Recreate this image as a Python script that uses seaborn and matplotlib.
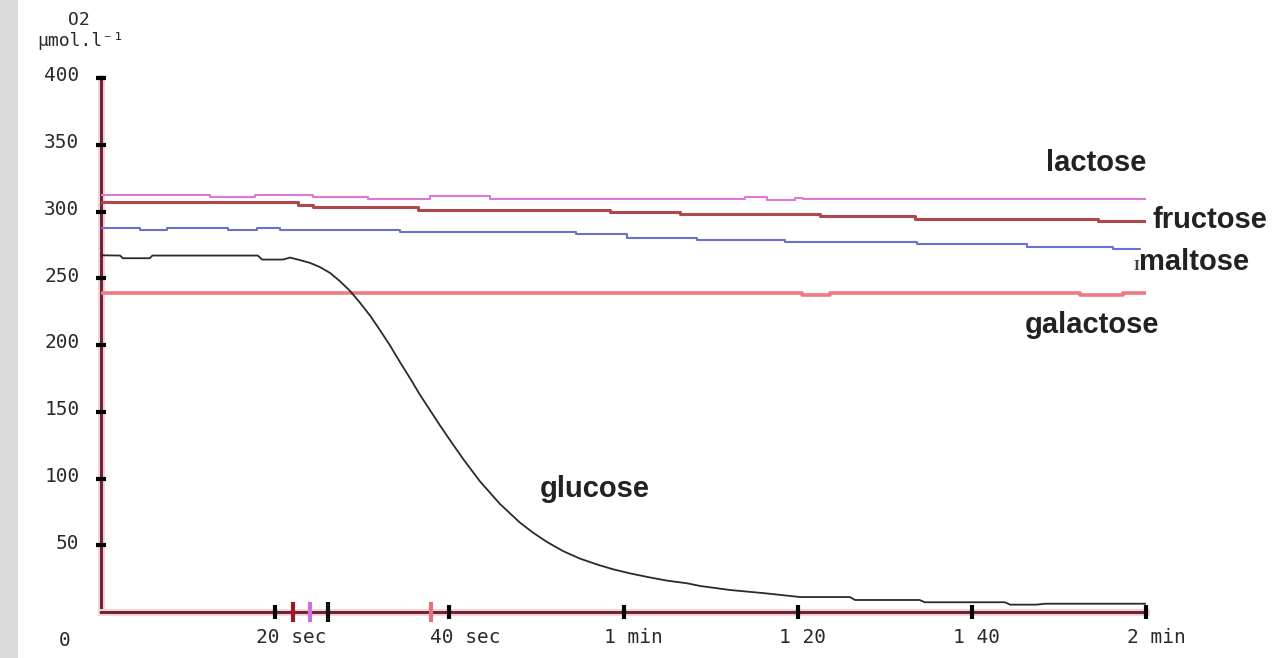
import matplotlib
matplotlib.use("Agg")
import matplotlib.pyplot as plt
import matplotlib.patheffects as pe
from matplotlib.patches import Rectangle
from matplotlib.transforms import ScaledTranslation
import seaborn as sns

# ---------------- data (time in seconds, O2 in µmol/l) ----------------
lactose_t = [0, 12.5, 17.7, 24.3, 30.7, 37.8, 44.7, 74.0, 76.5, 79.7, 80.6, 120]
lactose_v = [312.4, 310.9, 312.4, 310.9, 309.6, 311.4, 309.1, 311.0, 308.8, 310.3, 309.0, 309.0]

fructose_t = [0, 22.6, 24.3, 36.4, 58.5, 66.5, 82.6, 93.5, 114.5, 120]
fructose_v = [306.9, 304.9, 303.1, 301.4, 299.6, 298.1, 296.4, 294.7, 292.9, 292.9]

maltose_t = [0, 4.5, 7.6, 14.6, 17.9, 20.6, 34.3, 54.5, 60.4, 68.4, 78.5, 93.7, 106.3, 116.2, 119.3]
maltose_v = [287.9, 285.9, 287.9, 285.9, 287.9, 285.9, 284.7, 282.9, 280.5, 278.4, 277.5, 276.0, 273.5, 271.7, 271.7]

galactose_t = [0, 80.5, 83.7, 112.4, 117.4, 120]
galactose_v = [239.0, 237.3, 239.0, 237.3, 239.0, 239.0]

glucose_t = [0, 2.2, 2.5, 5.6, 5.9, 18.0, 18.5, 20.9, 21.7, 22.9, 24.0, 25.1, 26.3,
             27.4, 28.6, 29.7, 30.9, 32.0, 33.2, 34.3, 35.5, 36.6, 37.8, 38.9, 40.1,
             41.6, 43.5, 45.8, 48.1, 49.6, 51.2, 53.1, 55.0, 57.0, 58.8, 60.7, 62.7,
             65.0, 67.3, 68.8, 72.2, 76.3, 80.3, 86.0, 86.6, 94.0, 94.6, 103.8, 104.4,
             107.4, 108.4, 120]
glucose_v = [267.2, 267.0, 265.0, 265.0, 267.0, 267.0, 264.0, 264.0, 265.5, 263.5, 261.5,
             258.5, 254.0, 248.0, 240.5, 232.0, 222.0, 211.5, 199.5, 187.5, 175.0, 163.0,
             151.0, 140.0, 128.5, 114.5, 98.0, 81.0, 67.0, 59.5, 52.5, 45.5, 40.0, 35.5,
             32.0, 29.0, 26.3, 23.5, 21.5, 19.5, 16.5, 14.0, 11.2, 11.2, 9.0, 9.0, 7.3,
             7.3, 5.5, 5.5, 6.2, 6.2]

series_names = ["lactose", "fructose", "maltose", "galactose", "glucose"]
series_colors = ["#dd77dd", "#b0474f", "#6b72cc", "#ee7a86", "#2a2a2a"]

x_ticks = [20, 40, 60, 80, 100, 120]
x_tick_labels = ["20 sec", "40 sec", "1 min", "1 20", "1 40", "2 min"]
y_ticks = [50, 100, 150, 200, 250, 300, 350, 400]

# injection marks on the time axis
mark_t = [22.0, 24.0, 26.1, 37.9]
mark_colors = ["#a01828", "#d070d8", "#111111", "#e8707e"]

# ---------------- drawing ----------------
sns.set_theme(style="white")
plt.rcParams["font.family"] = ["DejaVu Sans Mono", "DejaVu Sans"]

W, H = 1274, 658
fig = plt.figure(figsize=(W / 100, H / 100), dpi=100)
fig.patch.set_facecolor("white")
fig.patches.append(Rectangle((0, 0), 18 / W, 1, transform=fig.transFigure,
                             facecolor="#dadada", edgecolor="none", zorder=0))

ax = fig.add_axes([101 / W, 46 / H, (1146 - 101) / W, (612 - 78) / H])
ax.set_facecolor("none")

data = {
    "lactose": (lactose_t, lactose_v, 1.5, "steps-post"),
    "fructose": (fructose_t, fructose_v, 2.2, "steps-post"),
    "maltose": (maltose_t, maltose_v, 1.5, "steps-post"),
    "galactose": (galactose_t, galactose_v, 2.6, "steps-post"),
    "glucose": (glucose_t, glucose_v, 1.3, "default"),
}
for name, col in zip(series_names, series_colors):
    t, v, lw, ds = data[name]
    sns.lineplot(x=t, y=v, ax=ax, color=col, lw=lw, drawstyle=ds,
                 estimator=None, sort=False, zorder=3)

ax.set_xlim(0, 120)
ax.set_ylim(0, 400)

for s in ["top", "right"]:
    ax.spines[s].set_visible(False)
for s in ["left", "bottom"]:
    ax.spines[s].set_color("#6e2636")
    ax.spines[s].set_linewidth(2.2)
    ax.spines[s].set_path_effects([pe.withStroke(linewidth=5, foreground="#f6d3da")])
    ax.spines[s].set_zorder(1)
ax.xaxis.set_zorder(2.5)
ax.yaxis.set_zorder(2.5)

mono = ["DejaVu Sans Mono", "DejaVu Sans"]
ax.set_yticks(y_ticks)
ax.set_yticklabels([str(v) for v in y_ticks], family=mono, fontsize=14, color="#2a2a2a")
ax.tick_params(axis="y", direction="inout", length=7, width=3, color="black", pad=12, left=True)
for lab in ax.get_yticklabels():
    lab.set_transform(lab.get_transform() + ScaledTranslation(0, 3 / 72, fig.dpi_scale_trans))

ax.set_xticks(x_ticks)
ax.set_xticklabels(x_tick_labels, family=mono, fontsize=14, color="#2a2a2a", ha="left")
ax.tick_params(axis="x", direction="inout", length=9.5, width=3, color="black", pad=7, bottom=True)
for lab in ax.get_xticklabels():
    lab.set_transform(lab.get_transform() + ScaledTranslation(-13.7 / 72, 0, fig.dpi_scale_trans))

# coloured injection marks
for t, c in zip(mark_t, mark_colors):
    ax.plot([t], [0], marker="|", markersize=15, mew=3, color=c, clip_on=False, zorder=5)

# origin label and y unit label
ax.text(-4.2, -21, "0", family=mono, fontsize=14, color="#2a2a2a", ha="center", va="center",
        clip_on=False)
fig.text(68 / W, 1 - 20 / H, "O2", family=mono, fontsize=13, color="#2a2a2a", va="center")
fig.text(37 / W, 1 - 41 / H, "µmol.l⁻¹", family=mono, fontsize=13, color="#2a2a2a", va="center")

# curve labels
lab_kw = dict(family=["Liberation Sans", "DejaVu Sans"], fontweight="bold", fontsize=21,
              color="#222222", va="center", ha="left", clip_on=False)
ax.text(108.5, 336, "lactose", **lab_kw)
ax.text(120.8, 294, "fructose", **lab_kw)
ax.text(119.2, 262, "maltose", **lab_kw)
ax.text(106.1, 215, "galactose", **lab_kw)
ax.text(50.4, 92, "glucose", **lab_kw)
ax.text(118.9, 259, "I", family=["DejaVu Serif"], fontsize=9, fontweight="bold",
        color="#444444", ha="center", va="center", clip_on=False)

fig.savefig("out.png", dpi=100, facecolor="white")
